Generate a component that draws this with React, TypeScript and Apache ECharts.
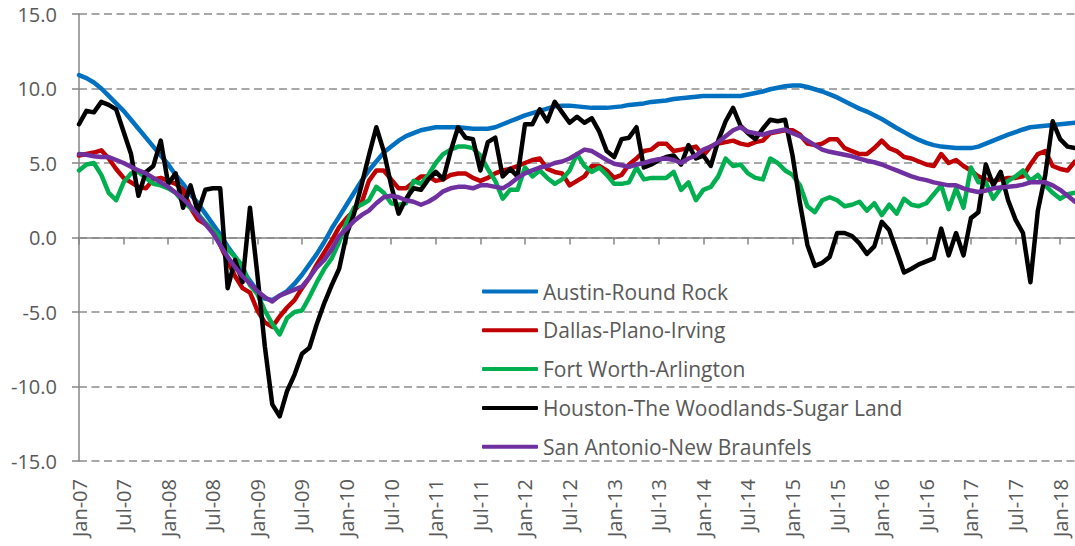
import React, { useEffect, useRef } from "react";
import * as echarts from "echarts";

const MONTH_NAMES = ["Jan", "Feb", "Mar", "Apr", "May", "Jun", "Jul", "Aug", "Sep", "Oct", "Nov", "Dec"];
const YEARS = ["07", "08", "09", "10", "11", "12", "13", "14", "15", "16", "17", "18"];
const LAST_CATEGORY = "Mar-18";

const categories: string[] = [];
outer: for (const y of YEARS) {
  for (const m of MONTH_NAMES) {
    const c = `${m}-${y}`;
    categories.push(c);
    if (c === LAST_CATEGORY) break outer;
  }
}

const seriesNames = [
  "Austin-Round Rock",
  "Dallas-Plano-Irving",
  "Fort Worth-Arlington",
  "Houston-The Woodlands-Sugar Land",
  "San Antonio-New Braunfels",
];

const seriesColors = ["#0070C0", "#C00000", "#00B050", "#000000", "#7030A0"];

const austin = [
  10.9, 10.7, 10.4, 10.0, 9.5, 9.0, 8.5, 7.9, 7.3, 6.7,
  6.1, 5.5, 4.9, 4.2, 3.6, 2.9, 2.3, 1.6, 0.9, 0.2,
  -0.6, -1.3, -2.2, -2.9, -3.6, -4.1, -4.2, -3.9, -3.6, -3.1,
  -2.5, -1.8, -1.1, -0.3, 0.6, 1.4, 2.2, 3.0, 3.8, 4.5,
  5.1, 5.7, 6.1, 6.5, 6.8, 7.0, 7.2, 7.3, 7.4, 7.4,
  7.4, 7.4, 7.35, 7.3, 7.3, 7.3, 7.4, 7.6, 7.8, 8.0,
  8.2, 8.35, 8.5, 8.65, 8.8, 8.85, 8.85, 8.8, 8.75, 8.7,
  8.7, 8.7, 8.75, 8.8, 8.9, 8.95, 9.0, 9.1, 9.15, 9.2,
  9.3, 9.35, 9.4, 9.45, 9.5, 9.5, 9.5, 9.5, 9.5, 9.5,
  9.6, 9.7, 9.8, 9.95, 10.05, 10.15, 10.2, 10.2, 10.1, 9.95,
  9.8, 9.6, 9.4, 9.15, 8.9, 8.65, 8.45, 8.2, 7.95, 7.65,
  7.35, 7.07, 6.8, 6.55, 6.35, 6.2, 6.1, 6.05, 6.0, 6.0,
  6.0, 6.1, 6.3, 6.5, 6.7, 6.9, 7.07, 7.25, 7.4, 7.45,
  7.5, 7.55, 7.6, 7.65, 7.7,
];

const dallas = [
  5.5, 5.6, 5.7, 5.85, 5.3, 4.6, 4.0, 3.7, 3.4, 3.3,
  3.9, 4.0, 3.8, 3.6, 3.2, 2.0, 1.2, 0.9, 0.5, -0.5,
  -1.6, -2.6, -3.4, -3.7, -4.9, -5.7, -6.0, -5.3, -4.7, -4.2,
  -3.4, -2.7, -1.8, -1.0, -0.2, 0.7, 1.3, 1.8, 2.3, 3.8,
  4.5, 4.5, 3.9, 3.3, 3.3, 3.7, 4.1, 4.1, 3.8, 3.9,
  4.2, 4.3, 4.3, 4.0, 3.8, 4.0, 4.3, 4.5, 4.6, 4.8,
  5.0, 5.2, 5.3, 4.6, 4.4, 4.3, 3.5, 3.8, 4.1, 4.8,
  4.8, 4.5, 4.0, 4.2, 4.9, 5.3, 5.8, 5.9, 6.3, 6.3,
  5.8, 5.9, 6.0, 6.1, 5.5, 6.1, 6.3, 6.4, 6.5, 6.3,
  6.2, 6.4, 6.5, 7.0, 7.1, 7.2, 7.2, 6.9, 6.3, 6.2,
  6.3, 6.6, 6.6, 6.0, 5.8, 5.6, 5.6, 6.0, 6.5, 6.0,
  5.8, 5.4, 5.3, 5.1, 4.9, 4.8, 5.6, 5.0, 5.2, 4.8,
  4.5, 4.1, 3.9, 3.8, 3.9, 4.0, 4.0, 4.1, 4.9, 5.6,
  5.8, 4.8, 4.6, 4.5, 5.1,
];

const fortWorth = [
  4.5, 4.9, 5.0, 4.2, 3.0, 2.5, 3.7, 4.3, 4.4, 4.0,
  3.6, 3.5, 3.3, 3.0, 2.4, 2.0, 1.6, 1.0, 0.5, 0.0,
  -0.8, -1.3, -1.9, -3.2, -3.8, -4.9, -5.8, -6.5, -5.4, -5.0,
  -4.9, -4.0, -3.0, -2.1, -1.4, -0.3, 1.0, 2.0, 2.2, 2.5,
  3.4, 3.0, 2.3, 2.2, 2.3, 3.8, 3.6, 4.2, 5.0, 5.6,
  5.9, 6.1, 6.1, 6.0, 5.5, 4.6, 3.8, 2.6, 3.2, 3.2,
  4.7, 4.1, 4.5, 4.0, 3.6, 3.9, 4.5, 5.6, 4.8, 4.4,
  4.7, 4.2, 3.6, 3.6, 3.7, 4.7, 3.9, 4.0, 4.0, 4.0,
  4.4, 3.2, 3.7, 2.5, 3.2, 3.4, 4.1, 5.3, 4.8, 4.9,
  4.3, 4.0, 3.9, 5.3, 5.0, 4.5, 4.2, 3.5, 2.1, 1.7,
  2.5, 2.7, 2.5, 2.1, 2.2, 2.4, 1.8, 2.3, 1.5, 2.2,
  1.6, 2.6, 2.2, 2.1, 2.3, 2.9, 3.5, 1.9, 3.3, 2.0,
  4.7, 3.7, 3.7, 2.6, 3.3, 3.8, 4.1, 4.5, 3.8, 4.2,
  3.5, 3.0, 2.6, 2.9, 3.0,
];

const houston = [
  7.6, 8.5, 8.4, 9.1, 8.9, 8.6, 7.1, 5.6, 2.8, 4.4,
  4.8, 6.5, 3.6, 4.3, 2.0, 3.5, 1.7, 3.2, 3.3, 3.3,
  -3.4, -1.5, -3.0, 2.0, -2.5, -7.3, -11.2, -12.0, -10.3, -9.2,
  -7.8, -7.4, -5.8, -4.4, -3.2, -2.1, 0.2, 1.6, 3.5, 5.5,
  7.4, 5.8, 3.5, 1.6, 2.6, 3.3, 3.2, 3.9, 4.4, 3.9,
  5.8, 7.4, 6.7, 6.6, 4.5, 6.4, 6.7, 4.1, 4.6, 4.1,
  7.6, 7.6, 8.6, 7.8, 9.1, 8.4, 7.7, 8.1, 7.7, 8.0,
  7.1, 5.8, 5.4, 6.6, 6.7, 7.4, 4.7, 4.9, 5.2, 5.4,
  5.5, 4.9, 6.2, 5.3, 5.5, 4.8, 6.5, 7.8, 8.7, 7.5,
  7.0, 6.6, 7.3, 7.9, 7.8, 7.9, 5.5, 2.3, -0.5, -1.9,
  -1.7, -1.3, 0.3, 0.3, 0.1, -0.4, -1.1, -0.6, 1.05, 0.5,
  -0.9, -2.35, -2.1, -1.8, -1.6, -1.4, 0.6, -1.2, 0.3, -1.2,
  1.3, 1.7, 4.9, 3.5, 4.4, 2.5, 1.2, 0.3, -3.0, 1.8,
  4.2, 7.8, 6.6, 6.1, 6.0,
];

const sanAntonio = [
  5.6, 5.55, 5.45, 5.4, 5.4, 5.2, 5.0, 4.75, 4.5, 4.3,
  4.0, 3.7, 3.4, 3.0, 2.6, 2.1, 1.5, 0.9, 0.3, -0.5,
  -1.3, -2.0, -2.6, -3.1, -3.6, -4.0, -4.3, -3.9, -3.7, -3.5,
  -3.3, -2.7, -2.0, -1.5, -0.8, 0.1, 0.6, 1.1, 1.5, 1.8,
  2.3, 2.7, 2.8, 2.7, 2.5, 2.4, 2.2, 2.4, 2.7, 3.1,
  3.3, 3.4, 3.4, 3.3, 3.5, 3.5, 3.4, 3.3, 3.6, 4.0,
  4.3, 4.5, 4.7, 4.8, 5.0, 5.1, 5.3, 5.6, 5.9, 5.8,
  5.5, 5.2, 4.95, 4.85, 4.75, 4.9, 5.0, 5.15, 5.25, 5.3,
  5.2, 5.0, 5.3, 5.5, 5.9, 6.1, 6.4, 6.8, 7.2, 7.4,
  7.1, 7.0, 6.9, 7.05, 7.15, 7.25, 7.0, 6.8, 6.5, 6.2,
  5.9, 5.75, 5.65, 5.55, 5.45, 5.3, 5.15, 5.05, 4.9, 4.7,
  4.5, 4.3, 4.1, 3.95, 3.85, 3.7, 3.6, 3.5, 3.5, 3.3,
  3.15, 3.05, 3.15, 3.3, 3.35, 3.4, 3.45, 3.55, 3.7, 3.7,
  3.7, 3.5, 3.2, 2.8, 2.4,
];

const seriesData = [austin, dallas, fortWorth, houston, sanAntonio];

const FONT = "'Open Sans', sans-serif";
const TEXT_COLOR = "#595959";
const AXIS_COLOR = "#868686";
const GRID_COLOR = "#8c8c8c";

export default function App() {
  const ref = useRef<HTMLDivElement | null>(null);

  useEffect(() => {
    if (!ref.current) return;
    const chart = echarts.init(ref.current, undefined, { renderer: "svg" });
    chart.setOption({
      animation: false,
      grid: { left: 79, right: 0, top: 14, bottom: 85, containLabel: false },
      xAxis: [
        {
          type: "category",
          data: categories,
          boundaryGap: false,
          position: "bottom",
          axisLine: { show: false, onZero: false },
          axisTick: { show: false },
          axisLabel: {
            interval: 5,
            rotate: 90,
            margin: 18,
            fontSize: 20,
            color: TEXT_COLOR,
            fontFamily: FONT,
          },
          splitLine: { show: false },
        },
        {
          type: "category",
          data: categories,
          boundaryGap: false,
          position: "bottom",
          axisLine: { show: true, onZero: true, lineStyle: { color: AXIS_COLOR, width: 1.5 } },
          axisTick: { show: true, interval: 5, length: 7, lineStyle: { color: AXIS_COLOR, width: 1.5 } },
          axisLabel: { show: false },
          splitLine: { show: false },
        },
      ],
      yAxis: {
        type: "value",
        min: -15,
        max: 15,
        interval: 5,
        axisLine: { show: true, lineStyle: { color: AXIS_COLOR, width: 1.5 } },
        axisTick: { show: true, length: 7, lineStyle: { color: AXIS_COLOR, width: 1.5 } },
        axisLabel: {
          formatter: (v: number) => v.toFixed(1),
          margin: 22,
          fontSize: 20,
          color: TEXT_COLOR,
          fontFamily: FONT,
        },
        splitLine: { show: true, lineStyle: { color: GRID_COLOR, width: 1.5, type: [8, 4.5] } },
      },
      legend: {
        orient: "vertical",
        left: 482,
        top: 281,
        padding: 0,
        itemWidth: 56,
        itemHeight: 4,
        itemGap: 17.8,
        icon: "roundRect",
        data: seriesNames,
        textStyle: { fontSize: 21, color: TEXT_COLOR, fontFamily: FONT, lineHeight: 20 },
      },
      series: seriesNames.map((name, i) => ({
        type: "line",
        name,
        data: seriesData[i],
        xAxisIndex: 0,
        yAxisIndex: 0,
        showSymbol: false,
        symbol: "none",
        color: seriesColors[i],
        lineStyle: { width: 4.5, color: seriesColors[i], cap: "round", join: "round" },
        itemStyle: { color: seriesColors[i] },
        emphasis: { disabled: true },
      })),
    });
    return () => chart.dispose();
  }, []);

  return (
    <div
      ref={ref}
      style={{ position: "absolute", left: 0, top: 0, width: 1075, height: 546 }}
    />
  );
}
